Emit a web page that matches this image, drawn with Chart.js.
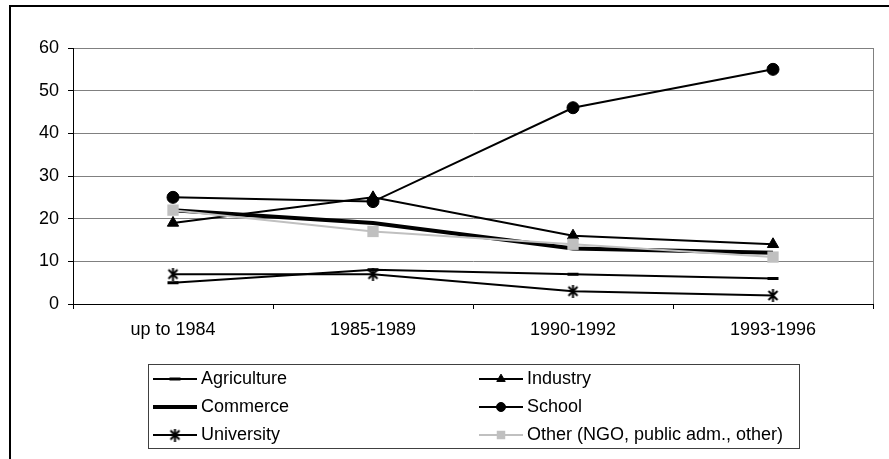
<!DOCTYPE html>
<html>
<head>
<meta charset="utf-8">
<script src="https://cdn.jsdelivr.net/npm/chart.js@4.4.1/dist/chart.umd.min.js"></script>
<style>
  html, body { margin: 0; padding: 0; background: #fff; overflow: hidden; }
</style>
</head>
<body>
<canvas id="graficoSectores" width="889" height="459"></canvas>
<script>
const categorias = ['up to 1984', '1985-1989', '1990-1992', '1993-1996'];
const agriculture = [5, 8, 7, 6];
const industry = [19, 25, 16, 14];
const commerce = [22, 19, 13, 12];
const school = [25, 24, 46, 55];
const university = [7, 7, 3, 2];
const other = [22, 17, 14, 11];
const ticksY = [0, 10, 20, 30, 40, 50, 60];

const fuente = '"Liberation Sans", Arial, sans-serif';

// asterisco tipo Excel (X con barra vertical)
function crearAsterisco() {
  const c = document.createElement('canvas');
  c.width = 13;
  c.height = 13;
  const g = c.getContext('2d');
  g.strokeStyle = '#000';
  g.lineWidth = 2;
  g.beginPath();
  g.moveTo(2, 2); g.lineTo(11, 11);
  g.moveTo(11, 2); g.lineTo(2, 11);
  g.moveTo(6.5, 0); g.lineTo(6.5, 13);
  g.stroke();
  return c;
}
const asterisco = crearAsterisco();

const marco = {
  id: 'marco',
  beforeDraw(chart) {
    const ctx = chart.ctx;
    ctx.save();
    ctx.fillStyle = '#fff';
    ctx.fillRect(0, 0, chart.width, chart.height);
    ctx.strokeStyle = '#000';
    ctx.lineWidth = 2;
    ctx.strokeRect(10, 6, 2000, 2000);
    ctx.restore();
  },
  beforeDatasetsDraw(chart) {
    const a = chart.chartArea;
    const ctx = chart.ctx;
    ctx.save();
    ctx.strokeStyle = '#808080';
    ctx.lineWidth = 1;
    ctx.beginPath();
    ctx.moveTo(a.right + 0.5, a.top);
    ctx.lineTo(a.right + 0.5, a.bottom);
    ctx.stroke();
    ctx.restore();
  }
};

const leyendaCaja = {
  id: 'leyendaCaja',
  afterDraw(chart) {
    const ctx = chart.ctx;
    ctx.save();
    ctx.strokeStyle = '#404040';
    ctx.lineWidth = 1;
    ctx.strokeRect(148.5, 364.5, 651, 84);
    ctx.font = '18px ' + fuente;
    ctx.textBaseline = 'middle';
    chart.data.datasets.forEach((ds, i) => {
      const col = i % 2;
      const fila = Math.floor(i / 2);
      const x0 = col === 0 ? 153 : 479;
      const y = 379 + fila * 28;
      ctx.strokeStyle = ds.borderColor;
      ctx.lineWidth = ds.borderWidth;
      ctx.beginPath();
      ctx.moveTo(x0, y);
      ctx.lineTo(x0 + 44, y);
      ctx.stroke();
      if (ds.pointRadius > 0) {
        ctx.fillStyle = ds.pointBackgroundColor;
        ctx.strokeStyle = ds.pointBorderColor;
        ctx.lineWidth = ds.pointBorderWidth;
        const escala = ds.pointStyle === 'line' ? 1 : 0.75;
        Chart.helpers.drawPoint(ctx, {
          pointStyle: ds.pointStyle,
          radius: ds.pointRadius * escala,
          borderWidth: ds.pointBorderWidth,
          rotation: 0
        }, x0 + 22, y);
      }
      ctx.fillStyle = '#000';
      ctx.fillText(ds.label, x0 + 48, y);
    });
    ctx.restore();
  }
};

const ctxSectores = document.getElementById('graficoSectores');

new Chart(ctxSectores, {
  type: 'line',
  data: {
    labels: categorias,
    datasets: [
      {
        label: 'Agriculture', data: agriculture, order: 5,
        borderColor: '#000', borderWidth: 2,
        pointStyle: 'line', pointRadius: 5.5, pointBorderWidth: 3,
        pointBackgroundColor: '#000', pointBorderColor: '#000'
      },
      {
        label: 'Industry', data: industry, order: 4,
        borderColor: '#000', borderWidth: 2,
        pointStyle: 'triangle', pointRadius: 6.5, pointBorderWidth: 1,
        pointBackgroundColor: '#000', pointBorderColor: '#000'
      },
      {
        label: 'Commerce', data: commerce, order: 3,
        borderColor: '#000', borderWidth: 4,
        pointRadius: 0, pointBorderWidth: 0,
        pointBackgroundColor: '#000', pointBorderColor: '#000'
      },
      {
        label: 'School', data: school, order: 2,
        borderColor: '#000', borderWidth: 2,
        pointStyle: 'circle', pointRadius: 6, pointBorderWidth: 1,
        pointBackgroundColor: '#000', pointBorderColor: '#000'
      },
      {
        label: 'University', data: university, order: 1,
        borderColor: '#000', borderWidth: 2,
        pointStyle: asterisco, pointRadius: 6, pointBorderWidth: 0,
        pointBackgroundColor: '#000', pointBorderColor: '#000'
      },
      {
        label: 'Other (NGO, public adm., other)', data: other, order: 0,
        borderColor: '#c0c0c0', borderWidth: 2,
        pointStyle: 'rect', pointRadius: 8, pointBorderWidth: 0,
        pointBackgroundColor: '#c0c0c0', pointBorderColor: '#c0c0c0'
      }
    ]
  },
  options: {
    responsive: false,
    animation: false,
    events: [],
    layout: { padding: { left: 0, top: 48, right: 16, bottom: 115 } },
    plugins: {
      legend: { display: false },
      tooltip: { enabled: false },
      title: { display: false }
    },
    scales: {
      x: {
        type: 'category',
        offset: true,
        afterFit(scale) { scale.height = 40; },
        grid: {
          offset: true,
          drawOnChartArea: false,
          drawTicks: true,
          tickLength: 5,
          tickColor: '#000'
        },
        border: { color: '#000', width: 1 },
        ticks: {
          color: '#000',
          padding: 10,
          maxRotation: 0,
          autoSkip: false,
          font: { family: fuente, size: 18 }
        }
      },
      y: {
        min: 0,
        max: 60,
        afterFit(scale) { scale.width = 73; },
        afterBuildTicks(scale) { scale.ticks = ticksY.map(v => ({ value: v })); },
        grid: {
          color: '#808080',
          lineWidth: 1,
          tickLength: 5,
          tickColor: '#000'
        },
        border: { color: '#000', width: 1 },
        ticks: {
          color: '#000',
          padding: 9,
          font: { family: fuente, size: 18 }
        }
      }
    }
  },
  plugins: [marco, leyendaCaja]
});
</script>
</body>
</html>
